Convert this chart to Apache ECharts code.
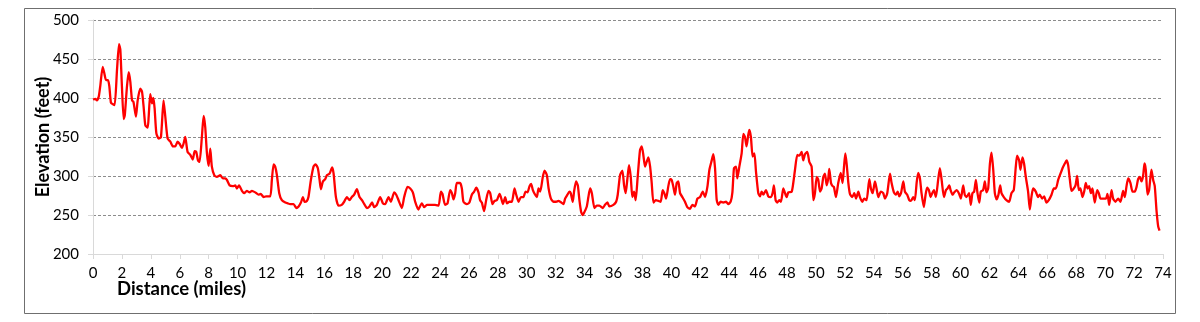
<!DOCTYPE html>
<html>
<head>
<meta charset="utf-8">
<script src="https://cdn.jsdelivr.net/npm/echarts@6/dist/echarts.min.js"></script>
<style>
  html, body { margin: 0; padding: 0; background: #fff; }
  #chart { width: 1200px; height: 322px; }
</style>
</head>
<body>
<div id="chart"></div>
<script>
// distance along route (miles)
var dist = [0,0.16,0.27,0.4,0.5,0.67,0.78,0.9,1.04,1.13,1.24,1.38,1.5,1.66,1.8,1.89,2.0,2.12,2.2,2.35,2.47,2.58,2.7,2.8,2.97,3.09,3.27,3.39,3.5,3.62,3.78,3.85,3.96,4.08,4.17,4.26,4.38,4.54,4.7,4.88,5.0,5.16,5.35,5.53,5.69,5.85,6.0,6.15,6.27,6.38,6.54,6.73,6.9,7.03,7.14,7.26,7.37,7.53,7.65,7.76,7.88,8.0,8.11,8.22,8.39,8.57,8.8,8.99,9.15,9.26,9.45,9.68,9.84,9.95,10.1,10.3,10.46,10.64,10.83,10.99,11.22,11.45,11.6,11.8,11.96,12.26,12.37,12.49,12.6,12.72,12.88,13.06,13.3,13.46,13.64,13.87,14.06,14.22,14.38,14.52,14.63,14.79,14.9,15.07,15.25,15.39,15.55,15.67,15.76,15.9,16.06,16.18,16.36,16.54,16.64,16.8,16.98,17.2,17.37,17.56,17.74,17.9,18.06,18.25,18.43,18.6,18.76,18.94,19.12,19.3,19.45,19.63,19.86,20.05,20.2,20.44,20.6,20.83,20.97,21.13,21.36,21.52,21.75,21.94,22.12,22.28,22.5,22.74,22.9,23.09,23.32,23.66,23.9,24.06,24.17,24.35,24.52,24.7,24.82,24.93,25.05,25.16,25.39,25.51,25.62,25.85,26.03,26.2,26.36,26.5,26.66,26.77,26.89,27.05,27.19,27.35,27.47,27.63,27.77,27.93,28.12,28.21,28.35,28.51,28.63,28.81,28.97,29.15,29.27,29.43,29.59,29.77,29.91,30.05,30.19,30.3,30.42,30.58,30.7,30.81,30.93,31.11,31.23,31.39,31.51,31.67,31.85,32.03,32.19,32.31,32.54,32.65,32.81,32.95,33.04,33.18,33.27,33.41,33.53,33.64,33.76,33.87,33.99,34.15,34.26,34.38,34.5,34.68,34.84,35.02,35.25,35.41,35.58,35.71,35.99,36.18,36.29,36.45,36.61,36.73,36.84,36.96,37.07,37.19,37.3,37.42,37.53,37.67,37.83,37.95,38.06,38.18,38.29,38.41,38.53,38.64,38.76,38.92,39.1,39.26,39.4,39.51,39.63,39.79,39.91,40.02,40.14,40.25,40.37,40.48,40.6,40.76,40.94,41.1,41.29,41.45,41.63,41.8,41.98,42.17,42.33,42.49,42.63,42.79,42.9,43.02,43.13,43.25,43.41,43.59,43.78,43.94,44.1,44.22,44.33,44.47,44.56,44.7,44.86,44.98,45.09,45.2,45.32,45.39,45.5,45.62,45.74,45.85,46.01,46.13,46.24,46.36,46.54,46.7,46.86,47.0,47.09,47.21,47.32,47.46,47.58,47.74,47.86,47.97,48.09,48.32,48.43,48.55,48.71,48.85,49.01,49.12,49.24,49.4,49.54,49.7,49.82,49.93,50.05,50.16,50.28,50.39,50.51,50.62,50.74,50.85,50.92,51.04,51.15,51.24,51.38,51.54,51.71,51.84,51.94,52.03,52.12,52.24,52.35,52.51,52.65,52.77,52.93,53.04,53.2,53.34,53.5,53.69,53.8,53.92,54.08,54.19,54.31,54.49,54.65,54.77,54.93,55.12,55.23,55.39,55.53,55.65,55.76,55.88,56.04,56.15,56.31,56.45,56.57,56.73,56.84,56.96,57.07,57.19,57.3,57.46,57.58,57.69,57.81,57.93,58.04,58.16,58.29,58.45,58.57,58.69,58.85,58.99,59.1,59.22,59.31,59.45,59.56,59.72,59.88,60.02,60.18,60.29,60.41,60.59,60.71,60.82,60.94,61.06,61.17,61.29,61.4,61.56,61.68,61.79,61.91,62.03,62.14,62.26,62.37,62.49,62.62,62.74,62.83,62.99,63.17,63.36,63.52,63.68,63.82,63.91,64.05,64.14,64.28,64.39,64.51,64.67,64.79,64.9,65.02,65.2,65.36,65.48,65.64,65.78,65.94,66.1,66.29,66.45,66.59,66.75,66.91,67.05,67.21,67.33,67.44,67.56,67.67,67.79,67.95,68.06,68.18,68.29,68.43,68.55,68.66,68.78,68.89,69.01,69.12,69.28,69.45,69.56,69.68,69.86,70.05,70.16,70.28,70.44,70.55,70.71,70.9,71.06,71.24,71.36,71.47,71.59,71.75,71.89,72.05,72.17,72.28,72.4,72.51,72.63,72.72,72.81,72.93,73.04,73.2,73.32,73.43,73.55,73.67,73.76];
// elevation (feet)
var elev = [398,399,397,402,415,440,432,423,423,415,394,392,391,436,469,462,415,373,378,415,433,421,397,395,376,397,412,408,389,365,362,376,405,393,400,387,355,348,350,397,376,348,344,338,338,344,341,336,342,350,331,327,321,332,331,320,318,350,377,363,329,313,335,312,301,299,301,297,297,295,288,287,288,284,288,281,278,281,279,281,279,276,277,273,274,274,295,315,312,301,278,269,266,265,264,264,259,261,266,273,267,268,273,295,312,315,310,295,283,293,296,301,303,311,303,273,262,263,267,273,269,273,276,283,273,269,264,259,261,266,260,263,273,265,264,273,267,279,276,269,259,273,286,284,279,267,257,265,260,263,263,263,262,280,277,263,265,282,278,270,278,291,291,284,267,264,266,276,280,285,279,269,266,255,269,281,278,264,268,269,277,273,264,273,265,267,267,284,276,267,273,273,280,279,287,290,282,276,273,284,280,299,307,301,284,271,267,267,268,267,264,271,276,280,278,267,280,293,288,269,254,250,254,261,273,284,278,259,262,262,259,263,266,261,263,267,276,301,307,288,278,297,314,299,273,280,269,299,333,338,327,312,318,324,312,291,266,269,268,267,282,278,271,287,296,295,286,276,291,293,278,273,267,260,258,263,261,271,273,280,273,286,308,320,328,310,270,263,267,266,267,264,267,279,310,312,297,312,329,354,350,338,353,359,350,325,329,306,278,274,280,276,282,274,273,278,288,269,266,269,267,284,278,273,279,280,291,308,327,326,331,320,328,331,318,312,269,278,299,295,280,284,299,303,288,297,309,291,287,286,273,291,304,291,312,329,316,291,277,273,278,271,280,273,267,271,269,296,284,278,293,284,273,280,278,271,278,303,291,279,276,280,274,278,293,280,276,269,268,273,269,291,304,297,278,260,276,285,282,273,278,282,273,295,310,295,273,282,284,288,282,276,279,282,278,271,288,276,273,278,263,278,280,295,278,266,280,282,293,279,284,316,330,308,278,270,276,288,278,273,269,267,278,282,312,326,320,308,324,316,299,280,257,273,284,280,273,276,271,274,266,269,276,284,284,295,303,310,316,320,314,295,281,283,288,300,282,284,273,280,291,284,287,278,284,266,282,278,271,271,271,277,263,282,271,267,271,267,281,273,286,297,291,280,280,286,296,299,293,301,316,308,276,282,308,295,287,256,235,230];
// axis ticks
var xTicks = { min: 0, max: 74, step: 2 };
var yTicks = { min: 200, max: 500, step: 50 };

var points = dist.map(function (d, i) { return [d, elev[i]]; });

var chart = echarts.init(document.getElementById('chart'));
var font = 'Lato, "Open Sans", sans-serif';
var option = {
  animation: false,
  grid: { left: 93, right: 37, top: 20, bottom: 68 },
  graphic: [
    {
      type: 'rect',
      shape: { x: 24.5, y: 8.5, width: 1151, height: 305 },
      style: { fill: 'none', stroke: '#6f6f6f', lineWidth: 1 },
      silent: true
    },
    {
      type: 'text',
      left: 117, top: 280,
      style: { text: 'Distance (miles)', fill: '#000', font: 'bold 18.5px ' + font }
    }
  ],
  xAxis: {
    type: 'value',
    min: xTicks.min, max: xTicks.max, interval: xTicks.step,
    axisLine: { show: true, onZero: false, lineStyle: { color: '#d9d9d9' } },
    axisTick: { show: true, length: 5, lineStyle: { color: '#d9d9d9' } },
    axisLabel: { color: '#000', fontSize: 15, fontFamily: font, margin: 12 },
    splitLine: { show: false }
  },
  yAxis: {
    type: 'value',
    min: yTicks.min, max: yTicks.max, interval: yTicks.step,
    name: 'Elevation (feet)',
    nameLocation: 'middle',
    nameGap: 41,
    nameMoveOverlap: false,
    nameTextStyle: { color: '#000', fontSize: 18, fontWeight: 'bold', fontFamily: font },
    axisLine: { show: true, lineStyle: { color: '#d9d9d9' } },
    axisTick: { show: true, length: 5, lineStyle: { color: '#d9d9d9' } },
    axisLabel: { color: '#000', fontSize: 15, fontFamily: font, margin: 14 },
    splitLine: {
      show: true,
      lineStyle: {
        color: ['rgba(0,0,0,0)', '#8c8c8c', '#8c8c8c', '#8c8c8c', '#8c8c8c', '#8c8c8c', '#8c8c8c'],
        type: [3, 2],
        width: 1
      }
    }
  },
  series: [{
    type: 'line',
    data: points,
    showSymbol: false,
    smooth: 0.2,
    lineStyle: { color: '#ff0000', width: 2.3 },
    z: 5
  }]
};
chart.setOption(option);
</script>
</body>
</html>
